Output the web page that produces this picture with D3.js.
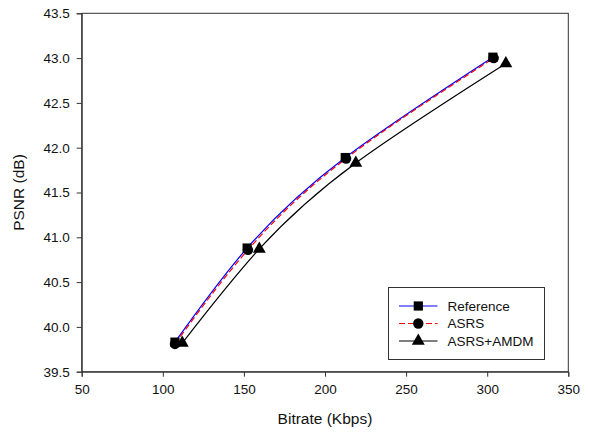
<!DOCTYPE html>
<html>
<head>
<meta charset="utf-8">
<script src="https://cdn.jsdelivr.net/npm/d3@7"></script>
<style>
  html, body { margin: 0; padding: 0; background: #fff; }
  svg { display: block; font-family: "Liberation Sans", Arial, sans-serif; }
</style>
</head>
<body>
<svg id="chart" width="589" height="434"></svg>
<script>
// Rate-distortion data: bitrate (Kbps) and PSNR (dB) per encoder configuration
const seriesNames = ["Reference", "ASRS", "ASRS+AMDM"];
const refBitrate  = [107.5, 152.0, 212.5, 303.5];
const refPsnr     = [39.83, 40.88, 41.89, 43.01];
const asrsBitrate = [107.5, 152.5, 213.0, 304.0];
const asrsPsnr    = [39.81, 40.86, 41.88, 43.00];
const amdmBitrate = [112.0, 159.5, 219.0, 311.5];
const amdmPsnr    = [39.82, 40.87, 41.83, 42.94];

const xTicks = [50, 100, 150, 200, 250, 300, 350];
const yTicks = [39.5, 40.0, 40.5, 41.0, 41.5, 42.0, 42.5, 43.0, 43.5];

const series = [
  { name: seriesNames[0], x: refBitrate,  y: refPsnr,  color: "#0000ff", dash: null,  symbol: d3.symbolSquare,   size: 85 },
  { name: seriesNames[1], x: asrsBitrate, y: asrsPsnr, color: "#ff0000", dash: "6,3", symbol: d3.symbolCircle,   size: 85 },
  { name: seriesNames[2], x: amdmBitrate, y: amdmPsnr, color: "#000000", dash: null,  symbol: d3.symbolTriangle, size: 72 }
];

const svg = d3.select("#chart");
const plotLeft = 81.7, plotRight = 568.3, plotTop = 13.3, plotBottom = 371.7;

const x = d3.scaleLinear().domain([50, 350]).range([plotLeft, plotRight]);
const y = d3.scaleLinear().domain([39.5, 43.5]).range([plotBottom, plotTop]);

// Frame around the plotting area
svg.append("rect")
  .attr("x", plotLeft).attr("y", plotTop)
  .attr("width", plotRight - plotLeft).attr("height", plotBottom - plotTop)
  .attr("fill", "none").attr("stroke", "#333").attr("stroke-width", 1);

// Axes
const xAxis = svg.append("g")
  .attr("transform", `translate(0,${plotBottom})`)
  .call(d3.axisBottom(x).tickValues(xTicks).tickFormat(d3.format("d")).tickSize(5).tickPadding(8));
const yAxis = svg.append("g")
  .attr("transform", `translate(${plotLeft},0)`)
  .call(d3.axisLeft(y).tickValues(yTicks).tickFormat(d3.format(".1f")).tickSize(5).tickPadding(7));

[xAxis, yAxis].forEach(g => {
  g.select(".domain").attr("stroke", "#333");
  g.selectAll(".tick line").attr("stroke", "#333");
  g.selectAll(".tick text")
    .attr("fill", "#111")
    .style("font-family", "'Liberation Sans', Arial, sans-serif")
    .style("font-size", "13.5px");
});

// Axis titles
svg.append("text")
  .attr("x", (plotLeft + plotRight) / 2).attr("y", 424)
  .attr("text-anchor", "middle")
  .attr("fill", "#111")
  .style("font-size", "15.5px")
  .text("Bitrate (Kbps)");
svg.append("text")
  .attr("transform", `translate(24,${(plotTop + plotBottom) / 2}) rotate(-90)`)
  .attr("text-anchor", "middle")
  .attr("fill", "#111")
  .style("font-size", "15.5px")
  .text("PSNR (dB)");

// Curves
const line = d3.line()
  .x(d => x(d[0]))
  .y(d => y(d[1]))
  .curve(d3.curveNatural);

series.forEach(s => {
  const pts = s.x.map((v, i) => [v, s.y[i]]);
  svg.append("path")
    .datum(pts)
    .attr("d", line)
    .attr("fill", "none")
    .attr("stroke", s.color)
    .attr("stroke-width", 1.2)
    .attr("stroke-dasharray", s.dash);
});

// Markers
series.forEach(s => {
  const pts = s.x.map((v, i) => [v, s.y[i]]);
  svg.append("g").selectAll("path")
    .data(pts)
    .join("path")
    .attr("transform", d => `translate(${x(d[0])},${y(d[1])})`)
    .attr("d", d3.symbol().type(s.symbol).size(s.size))
    .attr("fill", "#000");
});

// Legend
const legend = svg.append("g");
legend.append("rect")
  .attr("x", 388.5).attr("y", 287.5)
  .attr("width", 156).attr("height", 72)
  .attr("fill", "#fff").attr("stroke", "#333").attr("stroke-width", 1);

series.forEach((s, i) => {
  const ly = 306 + i * 17.5;
  legend.append("line")
    .attr("x1", 399).attr("x2", 437.5)
    .attr("y1", ly).attr("y2", ly)
    .attr("stroke", s.color)
    .attr("stroke-width", 1.2)
    .attr("stroke-dasharray", s.dash);
  legend.append("path")
    .attr("transform", `translate(418.3,${ly})`)
    .attr("d", d3.symbol().type(s.symbol).size(s.size))
    .attr("fill", "#000");
  legend.append("text")
    .attr("x", 447.5).attr("y", ly)
    .attr("dy", "0.36em")
    .attr("fill", "#111")
    .style("font-size", "13.5px")
    .text(s.name);
});
</script>
</body>
</html>
